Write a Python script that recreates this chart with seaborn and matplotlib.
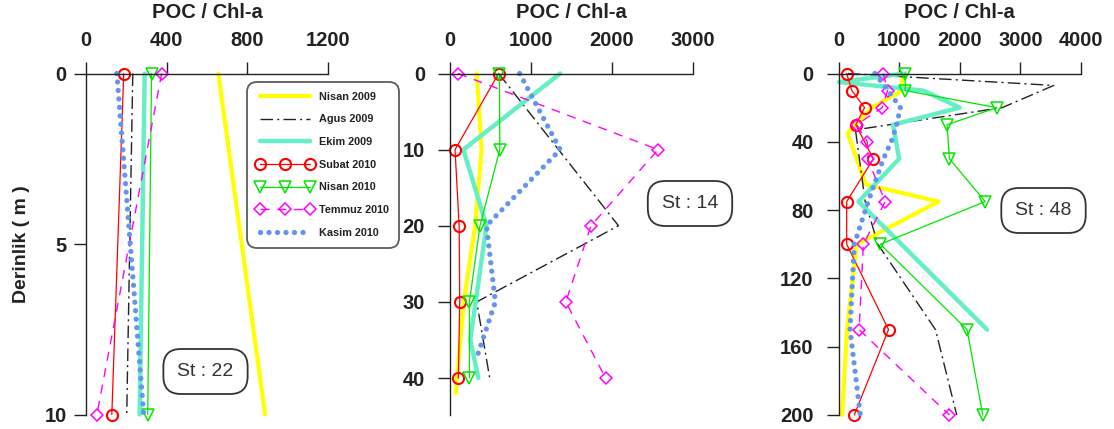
import matplotlib
matplotlib.use("Agg")
import matplotlib.pyplot as plt
import seaborn as sns
import pandas as pd

# ---- POC / Chl-a depth profiles at three stations ----
series_names = ["Nisan 2009", "Agus 2009", "Ekim 2009", "Subat 2010",
                "Nisan 2010", "Temmuz 2010", "Kasim 2010"]

# Station 22
st22_nisan09_depth = [0, 10]
st22_nisan09 = [656, 888]
st22_agus09_depth = [0, 10]
st22_agus09 = [232, 202]
st22_ekim09_depth = [0, 10]
st22_ekim09 = [291, 266]
st22_subat10_depth = [0, 10]
st22_subat10 = [187, 128]
st22_nisan10_depth = [0, 10]
st22_nisan10 = [325, 306]
st22_temmuz10_depth = [0, 10]
st22_temmuz10 = [375, 54]
st22_kasim10_depth = [0, 10]
st22_kasim10 = [153, 286]

# Station 14
st14_nisan09_depth = [0, 10, 20, 30, 42]
st14_nisan09 = [330, 390, 310, 170, 70]
st14_agus09_depth = [0, 20, 30, 40]
st14_agus09 = [600, 2080, 330, 490]
st14_ekim09_depth = [0, 10, 20, 35, 40]
st14_ekim09 = [1360, 165, 450, 250, 350]
st14_subat10_depth = [0, 10, 20, 30, 40]
st14_subat10 = [600, 62, 113, 120, 103]
st14_nisan10_depth = [0, 10, 20, 30, 40]
st14_nisan10 = [610, 615, 370, 240, 240]
st14_temmuz10_depth = [0, 10, 20, 30, 40]
st14_temmuz10 = [100, 2570, 1740, 1430, 1920]
st14_kasim10_depth = [0, 10, 20, 30, 37]
st14_kasim10 = [860, 1360, 450, 560, 340]

# Station 48
st48_nisan09_depth = [0, 10, 20, 35, 65, 75, 100, 150, 200]
st48_nisan09 = [1050, 1050, 550, 150, 450, 1650, 300, 140, 60]
st48_agus09_depth = [0, 7, 20, 33, 75, 100, 150, 200]
st48_agus09 = [150, 3550, 2700, 280, 440, 650, 1600, 1950]
st48_ekim09_depth = [0, 5, 10, 20, 30, 40, 50, 75, 150]
st48_ekim09 = [1100, 10, 1400, 2000, 900, 950, 1000, 330, 2450]
st48_subat10_depth = [0, 10, 20, 30, 50, 75, 100, 150, 200]
st48_subat10 = [135, 220, 430, 285, 575, 135, 135, 825, 260]
st48_nisan10_depth = [0, 10, 20, 30, 50, 75, 100, 150, 200]
st48_nisan10 = [1100, 1100, 2610, 1790, 1830, 2420, 690, 2120, 2380]
st48_temmuz10_depth = [0, 10, 20, 30, 40, 50, 75, 100, 150, 200]
st48_temmuz10 = [740, 810, 720, 300, 475, 480, 770, 410, 340, 1830]
st48_kasim10_depth = [0, 10, 20, 30, 40, 50, 75, 100, 150, 200]
st48_kasim10 = [600, 820, 1020, 960, 870, 740, 490, 260, 190, 360]

station_labels = ["St : 22", "St : 14", "St : 48"]
x_ticks = [[0, 400, 800, 1200], [0, 1000, 2000, 3000], [0, 1000, 2000, 3000, 4000]]
y_ticks = [[0, 5, 10], [0, 10, 20, 30, 40], [0, 40, 80, 120, 160, 200]]

stations = {
    "22": [(st22_nisan09_depth, st22_nisan09), (st22_agus09_depth, st22_agus09),
           (st22_ekim09_depth, st22_ekim09), (st22_subat10_depth, st22_subat10),
           (st22_nisan10_depth, st22_nisan10), (st22_temmuz10_depth, st22_temmuz10),
           (st22_kasim10_depth, st22_kasim10)],
    "14": [(st14_nisan09_depth, st14_nisan09), (st14_agus09_depth, st14_agus09),
           (st14_ekim09_depth, st14_ekim09), (st14_subat10_depth, st14_subat10),
           (st14_nisan10_depth, st14_nisan10), (st14_temmuz10_depth, st14_temmuz10),
           (st14_kasim10_depth, st14_kasim10)],
    "48": [(st48_nisan09_depth, st48_nisan09), (st48_agus09_depth, st48_agus09),
           (st48_ekim09_depth, st48_ekim09), (st48_subat10_depth, st48_subat10),
           (st48_nisan10_depth, st48_nisan10), (st48_temmuz10_depth, st48_temmuz10),
           (st48_kasim10_depth, st48_kasim10)],
}

# line appearance for each campaign
styles = [
    dict(color="#FFFF00", lw=3.0, linestyle="-"),
    dict(color="#222222", lw=1.0, linestyle=(0, (9, 3, 1.5, 3))),
    dict(color="#66EEC6", lw=3.2, linestyle="-"),
    dict(color="#FF0000", lw=0.9, linestyle="-", marker="o", ms=8,
         mfc="none", mec="#FF0000", mew=1.5),
    dict(color="#00E600", lw=0.9, linestyle="-", marker="v", ms=8.5,
         mfc="none", mec="#00E600", mew=1.1),
    dict(color="#FF00FF", lw=1.0, linestyle=(0, (6.5, 5.5)), marker="D", ms=6,
         mfc="none", mec="#FF00FF", mew=1.1),
    dict(color="#6495ED", lw=3.8, linestyle=(0, (0.01, 1.6)),
         dash_capstyle="round"),
]

sns.set_theme(style="white")
plt.rcParams["font.family"] = ["Liberation Sans", "DejaVu Sans"]

W, H = 1114, 429
fig = plt.figure(figsize=(W / 100, H / 100), dpi=100)


def frac(left, right, top, bottom):
    return [left / W, 1 - bottom / H, (right - left) / W, (bottom - top) / H]


panel_boxes = [frac(86, 328, 73.5, 414.5), frac(450, 693, 73.5, 415),
               frac(838.5, 1081, 73.5, 415)]
y_limits = [(10, 0), (44.86, 0), (200, 0)]
label_centres = [(205.5, 371.5), (690, 203.5), (1043.5, 210.5)]
y_pads = [5, 9, 9]

axes = []
for i, key in enumerate(["22", "14", "48"]):
    ax = fig.add_axes(panel_boxes[i])
    axes.append(ax)
    for name, (depth, vals), st in zip(series_names, stations[key], styles):
        df = pd.DataFrame({"value": vals, "depth": depth})
        sns.lineplot(data=df, x="value", y="depth", ax=ax, sort=False,
                     estimator=None, legend=False, clip_on=False,
                     label=name, **st)
    ax.set_xlim(0, x_ticks[i][-1])
    ax.set_ylim(*y_limits[i])
    ax.set_xticks(x_ticks[i])
    ax.set_yticks(y_ticks[i])
    ax.set_xlabel("")
    ax.set_ylabel("")
    ax.set_facecolor("none")
    for side in ["bottom", "right"]:
        ax.spines[side].set_visible(False)
    for side in ["top", "left"]:
        ax.spines[side].set_color("#222222")
        ax.spines[side].set_linewidth(1.0)
    ax.xaxis.set_ticks_position("top")
    ax.tick_params(axis="x", which="both", top=True, bottom=False,
                   labeltop=True, labelbottom=False, direction="out",
                   length=9, width=1, color="#222222", pad=8,
                   labelsize=14.5, labelcolor="#222222")
    ax.tick_params(axis="y", which="both", left=True, direction="out",
                   length=9, width=1, color="#222222", pad=y_pads[i],
                   labelsize=14.5, labelcolor="#222222")
    for t in ax.get_xticklabels() + ax.get_yticklabels():
        t.set_fontweight("bold")
    ax.grid(False)

    cx = (panel_boxes[i][0] + panel_boxes[i][2] / 2)
    fig.text(cx, 1 - 13 / H, "POC / Chl-a", ha="center", va="center",
             fontsize=14.5, fontweight="bold", color="#222222")

    lx, ly = label_centres[i]
    fig.text(lx / W, 1 - ly / H, station_labels[i], ha="center", va="center",
             fontsize=14, color="#333333",
             bbox=dict(boxstyle="round,pad=0.72,rounding_size=0.9",
                       fc="white", ec="#333333", lw=1.3))

fig.text(22 / W, 1 - 244 / H, "Derinlik ( m )", rotation=90, ha="center",
         va="center", fontsize=14, fontweight="bold", color="#222222")

handles = axes[0].get_lines()[:len(series_names)]
leg = fig.legend(handles, series_names, loc="upper left",
                 bbox_to_anchor=(247 / W, 1 - 82 / H), frameon=True,
                 fancybox=True, numpoints=3, handlelength=5.2,
                 handletextpad=0.55, labelspacing=1.17, borderpad=0.9,
                 borderaxespad=0, prop=dict(size=7.8, weight="bold"))
frame = leg.get_frame()
frame.set_edgecolor("#333333")
frame.set_linewidth(1.3)
frame.set_boxstyle("round,pad=0,rounding_size=0.9")
for t in leg.get_texts():
    t.set_color("#222222")

fig.savefig("out.png", dpi=100)
